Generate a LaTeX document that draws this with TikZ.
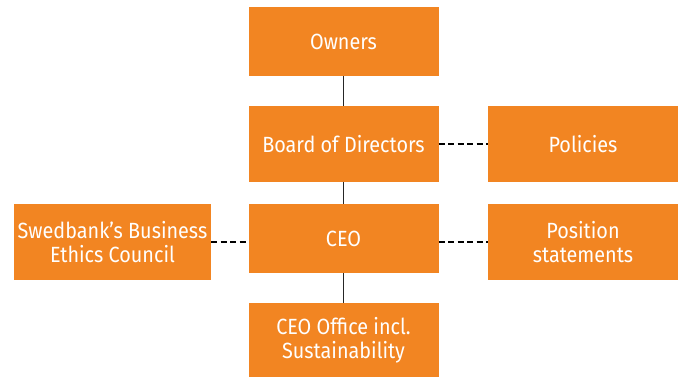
\documentclass[tikz,border=0pt]{standalone}
\usepackage{fontspec}
\setmainfont{Fira Sans}[FakeStretch=0.9]
\definecolor{boxorange}{HTML}{F28522}
\begin{document}
\begin{tikzpicture}[x=1pt,y=1pt]
	\tikzstyle{orgbox}=[fill=boxorange, text=white, align=center, inner sep=0pt, minimum width=190, font=\fontsize{22}{24}\selectfont]
	\tikzstyle{solidlink}=[draw=black!85, line width=1pt]
	\tikzstyle{dashlink}=[draw=black, line width=2.5pt, dash pattern=on 6pt off 3.5pt]
	\useasboundingbox (0,0) rectangle (678,377);
	% main chain
	\node [orgbox, minimum height=69] (owners) at (343.5,335.5) {Owners};
	\node [orgbox, minimum height=76] (board) at (343.5,233) {Board of Directors};
	\node [orgbox, minimum height=69] (ceo) at (343.5,138.5) {CEO};
	\node [orgbox, minimum height=74] (office) at (343.5,37) {CEO Office incl.\\Sustainability};
	% side boxes
	\node [orgbox, minimum height=76] (policies) at (583,233) {Policies};
	\node [orgbox, minimum height=76] (position) at (583,135) {Position\\statements};
	\node [orgbox, minimum width=197, minimum height=76] (ethics) at (112.5,135) {Swedbank’s Business\\Ethics Council};
	% connectors
	\draw [solidlink] (owners) -- (board);
	\draw [solidlink] (board) -- (ceo);
	\draw [solidlink] (ceo) -- (office);
	\draw [dashlink] (board.east) -- (policies.west);
	\draw [dashlink] (position.west -| ceo.east) -- (position.west);
	\draw [dashlink] (ethics.east) -- (ethics.east -| ceo.west);
\end{tikzpicture}
\end{document}
